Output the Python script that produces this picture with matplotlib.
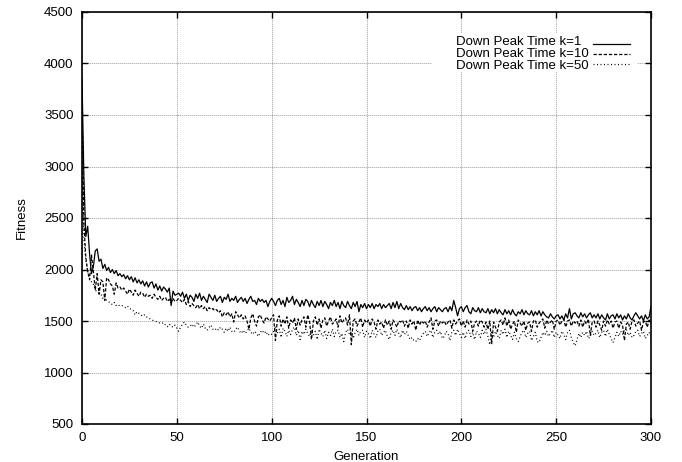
import matplotlib
matplotlib.use("Agg")
import matplotlib.pyplot as plt
from matplotlib.lines import Line2D
from matplotlib.patches import Rectangle

generations = list(range(0, 301))

fitness_k1 = [
    3850, 2900, 2320, 2420, 2150, 1960, 2030, 2180, 2200, 2080, 2100,
    2010, 2050, 1990, 2020, 1970, 2000, 1960, 1990, 1940, 1960,
    1930, 1950, 1910, 1940, 1900, 1930, 1880, 1920, 1870, 1900,
    1860, 1890, 1840, 1880, 1830, 1870, 1880, 1820, 1860, 1800,
    1840, 1790, 1830, 1810, 1780, 1820, 1650, 1790, 1750, 1760,
    1770, 1740, 1780, 1720, 1760, 1700, 1750, 1730, 1690, 1760,
    1720, 1770, 1700, 1740, 1710, 1680, 1760, 1730, 1700, 1750,
    1690, 1720, 1740, 1680, 1730, 1710, 1760, 1690, 1720, 1700,
    1740, 1680, 1710, 1730, 1690, 1720, 1670, 1710, 1740, 1690,
    1700, 1660, 1720, 1690, 1710, 1680, 1700, 1640, 1690, 1720,
    1690, 1650, 1700, 1720, 1660, 1700, 1640, 1730, 1680, 1700,
    1740, 1660, 1710, 1680, 1640, 1700, 1650, 1710, 1690, 1640,
    1700, 1660, 1630, 1690, 1650, 1700, 1640, 1690, 1660, 1620,
    1680, 1650, 1700, 1640, 1680, 1620, 1690, 1650, 1630, 1690,
    1650, 1620, 1680, 1640, 1690, 1590, 1660, 1630, 1670, 1620,
    1660, 1630, 1670, 1620, 1660, 1640, 1670, 1620, 1660, 1630,
    1650, 1670, 1620, 1680, 1630, 1690, 1620, 1670, 1630, 1610,
    1650, 1610, 1640, 1600, 1630, 1640, 1600, 1630, 1590, 1620,
    1640, 1600, 1630, 1590, 1620, 1640, 1590, 1630, 1610, 1590,
    1620, 1630, 1590, 1640, 1600, 1700, 1630, 1550, 1620, 1640,
    1590, 1630, 1650, 1590, 1570, 1630, 1600, 1590, 1630, 1580,
    1620, 1590, 1580, 1620, 1570, 1610, 1580, 1620, 1570, 1610,
    1580, 1560, 1610, 1570, 1600, 1560, 1610, 1570, 1550, 1590,
    1570, 1610, 1560, 1600, 1570, 1560, 1600, 1550, 1590, 1560,
    1600, 1550, 1590, 1560, 1540, 1530, 1570, 1540, 1520, 1550,
    1560, 1520, 1550, 1510, 1570, 1530, 1620, 1520, 1570, 1580,
    1550, 1530, 1580, 1540, 1570, 1530, 1560, 1580, 1530, 1560,
    1530, 1570, 1520, 1560, 1530, 1510, 1570, 1520, 1550, 1560,
    1520, 1570, 1530, 1560, 1510, 1550, 1520, 1570, 1530, 1510,
    1550, 1580, 1550, 1520, 1550, 1500, 1560, 1520, 1540, 1640,
]

fitness_k10 = [
    3600, 2450, 2120, 1980, 1900, 2140, 1980, 1800, 1960, 1760, 1900,
    1880, 1700, 1920, 1900, 1860, 1840, 1760, 1870, 1820, 1830,
    1800, 1820, 1790, 1760, 1810, 1780, 1750, 1800, 1770, 1740,
    1780, 1770, 1730, 1760, 1740, 1750, 1720, 1760, 1730, 1710,
    1740, 1700, 1720, 1730, 1690, 1710, 1680, 1720, 1690, 1700,
    1720, 1700, 1680, 1710, 1660, 1690, 1640, 1670, 1650, 1630,
    1660, 1620, 1650, 1620, 1640, 1600, 1630, 1610, 1620, 1600,
    1610, 1580, 1600, 1540, 1580, 1560, 1590, 1540, 1570, 1490,
    1590, 1560, 1530, 1560, 1520, 1550, 1500, 1420, 1530, 1570,
    1500, 1450, 1540, 1560, 1510, 1480, 1540, 1520, 1500, 1530,
    1560, 1310, 1510, 1550, 1450, 1520, 1470, 1540, 1430, 1510,
    1480, 1530, 1420, 1520, 1460, 1510, 1540, 1440, 1560, 1490,
    1320, 1500, 1540, 1460, 1520, 1430, 1510, 1530, 1450, 1500,
    1540, 1470, 1490, 1520, 1440, 1550, 1480, 1510, 1530, 1460,
    1560, 1270, 1500, 1520, 1450, 1490, 1530, 1440, 1510, 1480,
    1510, 1450, 1520, 1490, 1420, 1510, 1470, 1490, 1430, 1510,
    1460, 1500, 1420, 1510, 1480, 1440, 1500, 1490, 1510, 1450,
    1500, 1430, 1510, 1470, 1500, 1410, 1510, 1460, 1500, 1480,
    1500, 1440, 1490, 1530, 1420, 1500, 1510, 1450, 1500, 1480,
    1500, 1460, 1490, 1510, 1430, 1510, 1470, 1500, 1520, 1450,
    1500, 1440, 1510, 1470, 1500, 1400, 1480, 1500, 1450, 1510,
    1490, 1440, 1490, 1420, 1500, 1280, 1490, 1440, 1400, 1490,
    1510, 1460, 1530, 1450, 1510, 1420, 1470, 1500, 1390, 1510,
    1480, 1450, 1500, 1410, 1480, 1490, 1400, 1500, 1510, 1440,
    1480, 1500, 1520, 1430, 1510, 1470, 1490, 1510, 1420, 1500,
    1510, 1460, 1500, 1520, 1440, 1500, 1510, 1450, 1500, 1480,
    1500, 1450, 1510, 1440, 1500, 1470, 1520, 1360, 1490, 1500,
    1440, 1500, 1460, 1410, 1500, 1450, 1510, 1470, 1500, 1430,
    1490, 1500, 1430, 1490, 1460, 1310, 1470, 1490, 1420, 1500,
    1510, 1450, 1480, 1500, 1410, 1490, 1500, 1440, 1510, 1480,
]

fitness_k50 = [
    3100, 2300, 2090, 1980, 1910, 1880, 1860, 1800, 1780, 1770, 1760,
    1720, 1740, 1700, 1690, 1670, 1660, 1680, 1650, 1660, 1645,
    1650, 1640, 1630, 1645, 1620, 1615, 1600, 1560, 1590, 1575,
    1560, 1545, 1560, 1540, 1530, 1520, 1510, 1500, 1495, 1490,
    1480, 1475, 1485, 1460, 1445, 1470, 1450, 1440, 1460, 1430,
    1400, 1440, 1470, 1490, 1460, 1440, 1450, 1470, 1440, 1460,
    1490, 1450, 1430, 1470, 1430, 1410, 1440, 1460, 1420, 1410,
    1430, 1410, 1440, 1420, 1390, 1430, 1400, 1440, 1400, 1390,
    1420, 1440, 1400, 1380, 1410, 1380, 1400, 1430, 1390, 1370,
    1400, 1380, 1350, 1390, 1410, 1380, 1400, 1360, 1380, 1370,
    1400, 1450, 1380, 1420, 1340, 1430, 1400, 1350, 1410, 1370,
    1420, 1440, 1360, 1410, 1320, 1400, 1370, 1420, 1380, 1350,
    1410, 1360, 1400, 1320, 1420, 1380, 1350, 1410, 1330, 1390,
    1360, 1420, 1350, 1400, 1410, 1340, 1380, 1300, 1390, 1420,
    1370, 1400, 1330, 1390, 1420, 1360, 1400, 1410, 1340, 1400,
    1380, 1330, 1410, 1370, 1340, 1400, 1420, 1360, 1390, 1410,
    1350, 1320, 1390, 1410, 1360, 1420, 1380, 1340, 1410, 1370,
    1400, 1360, 1320, 1340, 1310, 1300, 1330, 1310, 1350, 1380,
    1400, 1350, 1390, 1410, 1340, 1390, 1410, 1370, 1400, 1330,
    1350, 1400, 1380, 1310, 1390, 1410, 1360, 1420, 1380, 1340,
    1390, 1330, 1400, 1410, 1350, 1390, 1320, 1400, 1380, 1340,
    1410, 1370, 1420, 1350, 1270, 1390, 1340, 1400, 1360, 1330,
    1410, 1370, 1420, 1340, 1400, 1360, 1320, 1390, 1330, 1300,
    1350, 1390, 1410, 1340, 1380, 1400, 1310, 1350, 1390, 1300,
    1290, 1340, 1390, 1360, 1400, 1350, 1380, 1410, 1340, 1390,
    1360, 1330, 1400, 1370, 1320, 1390, 1410, 1340, 1290, 1260,
    1320, 1380, 1340, 1390, 1360, 1400, 1330, 1350, 1400, 1360,
    1380, 1410, 1340, 1390, 1410, 1350, 1420, 1370, 1330, 1290,
    1340, 1390, 1350, 1400, 1370, 1410, 1420, 1360, 1390, 1340,
    1360, 1400, 1410, 1350, 1380, 1400, 1330, 1360, 1390, 1350,
]

series_labels = ["Down Peak Time k=1", "Down Peak Time k=10", "Down Peak Time k=50"]
x_ticks = [0, 50, 100, 150, 200, 250, 300]
y_ticks = [500, 1000, 1500, 2000, 2500, 3000, 3500, 4000, 4500]

plt.rcParams['font.family'] = ['Liberation Sans', 'DejaVu Sans']
plt.rcParams['font.size'] = 9.5

W, H = 682, 462
fig = plt.figure(figsize=(W / 100, H / 100), dpi=100)
ax = fig.add_axes([82 / W, 1 - 424 / H, (651 - 82) / W, (424 - 12) / H])

styles = ['-', (0, (2.6, 1.5)), (0, (0.8, 2.0))]
series = [fitness_k1, fitness_k10, fitness_k50]
for vals, ls, lab in zip(series, styles, series_labels):
    ax.plot(generations, vals, color='black', lw=0.9, linestyle=ls, label=lab, zorder=4)

ax.set_xlim(0, 300)
ax.set_ylim(500, 4500)
ax.set_xticks(x_ticks)
ax.set_yticks(y_ticks)
ax.grid(True, color='#555555', linestyle=(0, (0.8, 1.6)), lw=0.6, zorder=1)
ax.set_axisbelow(True)
ax.tick_params(direction='in', length=4.5, width=1, top=True, right=True, labelsize=9.5, pad=6)
for s in ax.spines.values():
    s.set_linewidth(1.2)
    s.set_zorder(6)

ax.set_xlabel("Generation", fontsize=9.5, labelpad=5)
ax.set_ylabel("Fitness", fontsize=9.5, labelpad=12)

# key box in gnuplot style: left-aligned labels (one tight block), samples in a fixed column
def fx(px):
    return px / W

def fy(py):
    return 1 - py / H

fig.add_artist(Rectangle((fx(432), fy(72)), fx(637) - fx(432), fy(33) - fy(72),
                         transform=fig.transFigure, facecolor='white', edgecolor='none', zorder=3))
rows_y = [44, 54, 63.5]
fig.text(fx(456), fy(54), "\n".join(series_labels), ha='left', va='center',
         fontsize=9.5, linespacing=1.04, zorder=5)
for yy, ls in zip(rows_y, styles):
    fig.add_artist(Line2D([fx(593), fx(630)], [fy(yy), fy(yy)], transform=fig.transFigure,
                          color='black', lw=0.9, linestyle=ls, zorder=5))

fig.savefig("out.png", dpi=100)
